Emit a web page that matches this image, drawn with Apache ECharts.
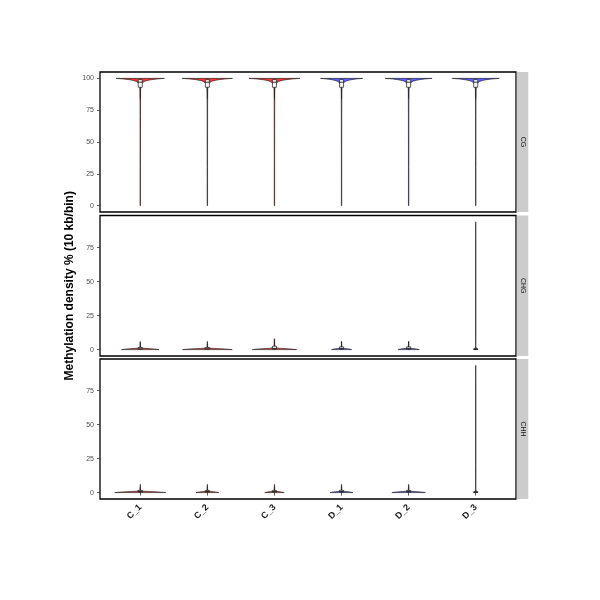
<!DOCTYPE html>
<html><head><meta charset="utf-8">
<script src="https://cdn.jsdelivr.net/npm/echarts@6/dist/echarts.min.js"></script>
<style>html,body{margin:0;padding:0;background:#fff}#c{width:600px;height:600px}</style>
</head><body><div id="c"></div><script>
// ---------------- data ----------------
const samples = ['C_1', 'C_2', 'C_3', 'D_1', 'D_2', 'D_3'];
const sampleGroup = ['C', 'C', 'C', 'D', 'D', 'D'];
const contexts = ['CG', 'CHG', 'CHH'];
const xTickValues = [1, 2, 3, 4, 5, 6];
const cgTicks = [0, 25, 50, 75, 100];
const chgTicks = [0, 25, 50, 75];
const chhTicks = [0, 25, 50, 75];

// violin outlines: methylation levels and half-widths (in category units)
const cgLevels = [0, 10, 20, 30, 40, 50, 60, 70, 80, 85, 90, 92, 93, 94, 95, 95.5, 96, 96.5, 97, 97.5, 98, 98.5, 99, 99.5, 100];
const cgHalfWidths = [
  [0.003,0.003,0.003,0.003,0.003,0.0032,0.0034,0.0036,0.004,0.0045,0.005,0.007,0.009,0.012,0.018,0.022,0.028,0.035,0.045,0.06,0.08,0.12,0.17,0.25,0.36],
  [0.003,0.003,0.003,0.003,0.003,0.0032,0.0034,0.0036,0.004,0.0045,0.005,0.007,0.009,0.012,0.018,0.022,0.028,0.036,0.046,0.062,0.082,0.125,0.175,0.26,0.375],
  [0.003,0.003,0.003,0.003,0.003,0.0032,0.0034,0.0036,0.004,0.0045,0.005,0.007,0.009,0.012,0.018,0.023,0.029,0.036,0.047,0.063,0.084,0.127,0.178,0.265,0.38],
  [0.003,0.003,0.003,0.003,0.003,0.0032,0.0034,0.0036,0.004,0.0045,0.005,0.007,0.009,0.012,0.017,0.021,0.026,0.033,0.042,0.056,0.075,0.11,0.15,0.22,0.315],
  [0.003,0.003,0.003,0.003,0.003,0.0032,0.0034,0.0036,0.004,0.0045,0.005,0.007,0.009,0.012,0.018,0.022,0.027,0.034,0.044,0.059,0.079,0.118,0.165,0.24,0.35],
  [0.003,0.003,0.003,0.003,0.003,0.0032,0.0034,0.0036,0.004,0.0045,0.005,0.007,0.009,0.012,0.018,0.022,0.027,0.034,0.044,0.059,0.079,0.118,0.165,0.24,0.35]
];
const chgLevels = [0, 0.5, 1, 1.5, 2, 3, 4, 6, 8, 10, 20, 40, 60, 80, 94];
const chgHalfWidths = [
  [0.28,0.20,0.05,0.012,0.006,0.004,0.003,0.002,null,null,null,null,null,null,null],
  [0.37,0.26,0.06,0.014,0.006,0.004,0.003,0.002,null,null,null,null,null,null,null],
  [0.33,0.24,0.07,0.02,0.01,0.005,0.004,0.003,0.002,null,null,null,null,null,null],
  [0.15,0.11,0.03,0.01,0.005,0.004,0.003,0.002,null,null,null,null,null,null,null],
  [0.16,0.12,0.03,0.01,0.005,0.004,0.003,0.002,null,null,null,null,null,null,null],
  [0.03,0.02,0.01,0.006,0.004,0.003,0.003,0.003,0.003,0.003,0.003,0.003,0.003,0.003,0.002]
];
const chhLevels = [0, 0.5, 1, 1.5, 2, 3, 4, 6, 8, 10, 20, 40, 60, 80, 93.5];
const chhHalfWidths = [
  [0.38,0.27,0.06,0.014,0.006,0.004,0.003,0.002,null,null,null,null,null,null,null],
  [0.17,0.12,0.03,0.01,0.005,0.004,0.003,0.002,null,null,null,null,null,null,null],
  [0.145,0.10,0.025,0.008,0.005,0.004,0.003,0.002,null,null,null,null,null,null,null],
  [0.17,0.12,0.03,0.01,0.005,0.004,0.003,0.002,null,null,null,null,null,null,null],
  [0.25,0.18,0.045,0.012,0.006,0.004,0.003,0.002,null,null,null,null,null,null,null],
  [0.03,0.02,0.01,0.006,0.004,0.003,0.003,0.003,0.003,0.003,0.003,0.003,0.003,0.003,0.002]
];
// boxplot stats: [lower whisker, Q1, median, Q3, upper whisker]
const cgBoxes = [[84,93,97,99,100],[84,93,97,99,100],[84,93,97,99,100],[84,93,97,99,100],[84,93,97,99,100],[84,93,97,99,100]];
const chgBoxes = [[0,0.3,0.6,1.5,5],[0,0.3,0.6,1.4,4.5],[0,0.4,0.9,2.5,7.5],[0,0.4,0.9,2,6],[0,0.4,0.9,2,6],[0,0.1,0.3,0.6,1.5]];
const chhBoxes = [[0,0.4,0.8,1.6,4],[0,0.4,0.8,1.6,4.5],[0,0.4,0.8,1.6,4.5],[0,0.4,0.8,1.7,4.6],[0,0.4,0.8,1.6,4.6],[0,0.1,0.3,0.6,1.5]];

// ---------------- styling ----------------
const FONT = 'Liberation Sans, Arial, Helvetica, sans-serif';
const fillColors = { C: 'rgba(240,20,20,0.85)', D: 'rgba(40,40,255,0.75)' };
const panelLeft = 100, panelWidth = 416;
const panels = [
  { top: 72, height: 140, min: -5, max: 105, ticks: cgTicks, levels: cgLevels, widths: cgHalfWidths, boxes: cgBoxes },
  { top: 215.5, height: 140.5, min: -4.7, max: 98.7, ticks: chgTicks, levels: chgLevels, widths: chgHalfWidths, boxes: chgBoxes },
  { top: 359, height: 140, min: -4.7, max: 98.2, ticks: chhTicks, levels: chhLevels, widths: chhHalfWidths, boxes: chhBoxes }
];
const BOX_HALF = 0.03;

function makeRender(p) {
  return function (params, api) {
    const i = params.dataIndex;
    const x = api.value(0);
    const lv = p.levels, ws = p.widths[i];
    const left = [], right = [];
    for (let k = 0; k < lv.length; k++) {
      if (ws[k] == null) break;
      left.push(api.coord([x - ws[k], lv[k]]));
      right.unshift(api.coord([x + ws[k], lv[k]]));
    }
    const b = p.boxes[i];
    const tl = api.coord([x - BOX_HALF, b[3]]);
    const br = api.coord([x + BOX_HALF, b[1]]);
    const med1 = api.coord([x - BOX_HALF, b[2]]);
    const med2 = api.coord([x + BOX_HALF, b[2]]);
    const wLow = api.coord([x, b[0]]), q1 = api.coord([x, b[1]]);
    const q3 = api.coord([x, b[3]]), wHigh = api.coord([x, b[4]]);
    return {
      type: 'group',
      children: [
        { type: 'polygon', shape: { points: left.concat(right) },
          style: { fill: fillColors[sampleGroup[i]], stroke: '#1a1a1a', lineWidth: 0.6 } },
        { type: 'line', shape: { x1: q3[0], y1: q3[1], x2: wHigh[0], y2: wHigh[1] },
          style: { stroke: '#1a1a1a', lineWidth: 0.7 } },
        { type: 'line', shape: { x1: q1[0], y1: q1[1], x2: wLow[0], y2: wLow[1] },
          style: { stroke: '#1a1a1a', lineWidth: 0.7 } },
        { type: 'rect', shape: { x: tl[0], y: tl[1], width: br[0] - tl[0], height: br[1] - tl[1] },
          style: { fill: '#ffffff', stroke: '#1a1a1a', lineWidth: 0.7 } },
        { type: 'line', shape: { x1: med1[0], y1: med1[1], x2: med2[0], y2: med2[1] },
          style: { stroke: '#1a1a1a', lineWidth: 0.9 } }
      ]
    };
  };
}

const grids = [], xAxes = [], yAxes = [], series = [], graphics = [];
panels.forEach((p, idx) => {
  const isBottom = idx === panels.length - 1;
  grids.push({ left: panelLeft, width: panelWidth, top: p.top, height: p.height,
    show: true, borderColor: '#000', borderWidth: 1.3, backgroundColor: '#fff',
    containLabel: false, outerBoundsMode: 'none' });
  xAxes.push({ type: 'value', gridIndex: idx, min: 0.4, max: 6.6,
    splitLine: { show: false }, axisLine: { show: false },
    axisTick: { show: isBottom, length: 3, customValues: xTickValues, lineStyle: { color: '#333', width: 0.8 } },
    axisLabel: { show: isBottom, customValues: xTickValues, rotate: 45, margin: 7,
      fontFamily: FONT, fontSize: 9, fontWeight: 'bold', color: '#1a1a1a',
      formatter: v => samples[Math.round(v) - 1] } });
  yAxes.push(Object.assign({ type: 'value', gridIndex: idx, min: p.min, max: p.max,
    splitLine: { show: false }, axisLine: { show: false },
    axisTick: { show: true, length: 3, customValues: p.ticks, lineStyle: { color: '#333', width: 0.8 } },
    axisLabel: { customValues: p.ticks, fontFamily: FONT, fontSize: 7, color: '#4d4d4d', margin: 6 } },
    idx === 1 ? { name: 'Methylation density % (10 kb/bin)', nameLocation: 'middle', nameRotate: 90, nameGap: 23,
      nameTextStyle: { fontFamily: FONT, fontSize: 12, fontWeight: 'bold', color: '#000' } } : {}));
  series.push({ type: 'custom', xAxisIndex: idx, yAxisIndex: idx, clip: true,
    data: xTickValues.map(v => [v, 0]), renderItem: makeRender(p), silent: true });
  graphics.push({ type: 'rect', left: panelLeft + panelWidth + 0.8, top: p.top,
    shape: { width: 11.5, height: p.height }, style: { fill: '#cccccc' } });
  graphics.push({ type: 'text', x: panelLeft + panelWidth + 6.5, y: p.top + p.height / 2, rotation: -Math.PI / 2,
    style: { text: contexts[idx], fill: '#1a1a1a', font: '7px ' + FONT, align: 'center', verticalAlign: 'middle' } });
});

const chart = echarts.init(document.getElementById('c'), null, { renderer: 'canvas' });
chart.setOption({
  animation: false,
  backgroundColor: '#fff',
  textStyle: { fontFamily: FONT },
  grid: grids, xAxis: xAxes, yAxis: yAxes, series: series, graphic: graphics
});
</script></body></html>
